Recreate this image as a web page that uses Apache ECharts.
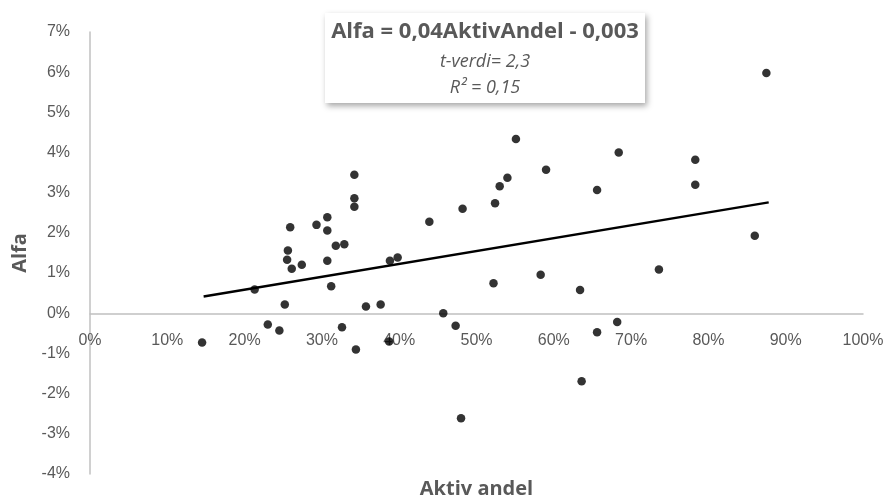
<!DOCTYPE html>
<html>
<head>
<meta charset="utf-8">
<script src="https://cdn.jsdelivr.net/npm/echarts@6/dist/echarts.min.js"></script>
<style>html,body{margin:0;padding:0;background:#fff}#c{width:885px;height:502px}</style>
</head>
<body>
<div id="c"></div>
<script>
// Aktiv andel (x) and Alfa (y), as fractions
const aktivAndel = [0.145,0.213,0.230,0.245,0.252,0.259,0.256,0.255,0.261,0.274,0.293,0.307,0.307,0.307,0.312,0.318,0.329,0.326,0.342,0.342,0.342,0.344,0.357,0.376,0.387,0.388,0.398,0.439,0.457,0.473,0.480,0.482,0.522,0.524,0.530,0.540,0.551,0.583,0.590,0.634,0.636,0.656,0.656,0.682,0.684,0.736,0.783,0.783,0.860,0.875];
const alfa = [-0.0073,0.0059,-0.0028,-0.0043,0.0022,0.0214,0.0156,0.0133,0.0111,0.0121,0.0220,0.0239,0.0206,0.0131,0.0067,0.0168,0.0172,-0.0035,0.0345,0.0286,0.0265,-0.0090,0.0017,0.0022,-0.0070,0.0131,0.0139,0.0228,0.0000,-0.0031,-0.0261,0.0260,0.0075,0.0274,0.0316,0.0337,0.0434,0.0096,0.0357,0.0058,-0.0169,0.0307,-0.0047,-0.0022,0.0400,0.0109,0.0382,0.0320,0.0193,0.0598];
// trend line endpoints
const trendX = [0.147, 0.878];
const trendY = [0.0042, 0.0276];
const xTicks = ['0%','10%','20%','30%','40%','50%','60%','70%','80%','90%','100%'];
const yTicks = ['-4%','-3%','-2%','-1%','0%','1%','2%','3%','4%','5%','6%','7%'];
const eqTitle = 'Alfa = 0,04AktivAndel - 0,003';
const eqT = 't-verdi= 2,3';
const eqR = 'R² = 0,15';

const chart = echarts.init(document.getElementById('c'));
const grey = '#595959';
const gridTop = 32, gridBottom = 28, H = 502;
const yMin = -0.04, yMax = 0.07;
const plotH = H - gridTop - gridBottom;
const zeroOffset = -plotH * (0 - yMin) / (yMax - yMin);
chart.setOption({
  animation: false,
  grid: {left: 90, right: 22, top: gridTop, bottom: gridBottom, outerBoundsMode: 'none', containLabel: false},
  xAxis: [{
    type: 'value', min: 0, max: 1, interval: 0.1, position: 'bottom', offset: zeroOffset,
    axisLine: {onZero: false, lineStyle: {color: '#c0c0c0', width: 1.5}},
    axisTick: {show: false},
    splitLine: {show: false},
    axisLabel: {margin: 19, fontFamily: 'Liberation Sans', fontSize: 16, color: grey,
      formatter: v => xTicks[Math.round(v * 10)]}
  }, {
    type: 'value', min: 0, max: 1, position: 'bottom',
    name: 'Aktiv andel', nameLocation: 'middle', nameGap: 5,
    nameTextStyle: {fontFamily: 'Open Sans', fontWeight: 'bold', fontSize: 20, color: grey},
    axisLine: {show: false, onZero: false}, axisTick: {show: false}, axisLabel: {show: false}, splitLine: {show: false}
  }],
  yAxis: {
    type: 'value', min: yMin, max: yMax, interval: 0.01,
    name: 'Alfa', nameLocation: 'middle', nameGap: 60, nameRotate: 90,
    nameTextStyle: {fontFamily: 'Open Sans', fontWeight: 'bold', fontSize: 20, color: grey},
    axisLine: {show: true, onZero: false, lineStyle: {color: '#c0c0c0', width: 1.5}},
    axisTick: {show: false},
    splitLine: {show: false},
    axisLabel: {margin: 20, fontFamily: 'Liberation Sans', fontSize: 16, color: grey,
      formatter: v => yTicks[Math.round(v * 100) + 4]}
  },
  series: [
    {
      type: 'line', xAxisIndex: 0, data: trendX.map((x, i) => [x, trendY[i]]),
      symbol: 'none', lineStyle: {color: '#000', width: 2.5}, z: 2
    },
    {
      type: 'scatter', xAxisIndex: 0, data: aktivAndel.map((x, i) => [x, alfa[i]]),
      symbolSize: 8.5, itemStyle: {color: '#000'}, z: 3
    }
  ],
  graphic: [
    {
      type: 'rect', left: 325, top: 13, shape: {width: 320, height: 90},
      style: {fill: '#fff', shadowBlur: 6, shadowOffsetX: 2, shadowOffsetY: 3, shadowColor: 'rgba(0,0,0,0.35)'}
    },
    {type: 'text', x: 485, y: 32, style: {text: eqTitle, fill: grey, font: 'bold 22px "Open Sans"', align: 'center', verticalAlign: 'middle'}},
    {type: 'text', x: 485, y: 62, style: {text: eqT, fill: grey, font: 'italic 18px "Open Sans"', align: 'center', verticalAlign: 'middle'}},
    {type: 'text', x: 485, y: 88, style: {text: eqR, fill: grey, font: 'italic 18px "Open Sans"', align: 'center', verticalAlign: 'middle'}}
  ]
});
</script>
</body>
</html>
